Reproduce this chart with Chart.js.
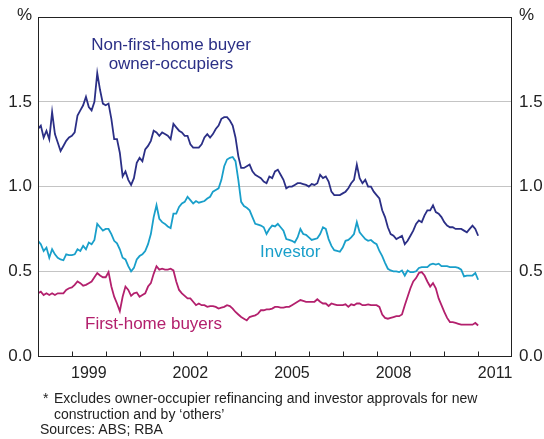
<!DOCTYPE html>
<html>
<head>
<meta charset="utf-8">
<script src="https://cdn.jsdelivr.net/npm/chart.js@4.4.0/dist/chart.umd.min.js"></script>
<style>
  html, body { margin: 0; padding: 0; background: #fff; }
  #wrap { position: relative; width: 544px; height: 439px; }
  #chart { position: absolute; left: 0; top: 0; }
  .note { position: absolute; white-space: nowrap; font: 14px/15.5px "Liberation Sans", Arial, sans-serif; color: #222; }
</style>
</head>
<body>
<div id="wrap">
  <canvas id="chart" width="544" height="439"></canvas>
  <div class="note" style="left:43px;top:391px">*</div>
  <div class="note" style="left:54px;top:391px">Excludes owner-occupier refinancing and investor approvals for new</div>
  <div class="note" style="left:54px;top:406.5px">construction and by ‘others’</div>
  <div class="note" style="left:40px;top:422px">Sources: ABS; RBA</div>
</div>
<script>
// monthly series, Jan 1998 onwards (per cent)
const startYear = 1998

const nonFirstHome = [
  1.34, 1.36, 1.29, 1.33, 1.28, 1.44, 1.31, 1.26, 1.21, 1.24, 1.27, 1.29,
  1.30, 1.32, 1.42, 1.45, 1.48, 1.53, 1.47, 1.45, 1.50, 1.67, 1.57, 1.49,
  1.48, 1.49, 1.40, 1.28, 1.28, 1.20, 1.06, 1.09, 1.04, 1.01, 1.05, 1.14,
  1.17, 1.15, 1.22, 1.24, 1.27, 1.33, 1.32, 1.30, 1.32, 1.31, 1.30, 1.28,
  1.37, 1.35, 1.33, 1.32, 1.30, 1.30, 1.25, 1.23, 1.23, 1.23, 1.25, 1.29,
  1.31, 1.29, 1.31, 1.34, 1.36, 1.40, 1.41, 1.41, 1.39, 1.36, 1.29, 1.18,
  1.11, 1.11, 1.12, 1.13, 1.09, 1.07, 1.06, 1.05, 1.03, 1.02, 1.06, 1.05,
  1.09, 1.10, 1.07, 1.04, 0.99, 1.00, 1.00, 1.01, 1.02, 1.02, 1.015, 1.01,
  1.00, 1.015, 1.01, 1.02, 1.07, 1.05, 1.06, 1.03, 0.97, 0.95, 0.95, 0.95,
  0.96, 0.97, 0.99, 1.02, 1.04, 1.13, 1.05, 1.02, 1.04, 1.00, 1.00, 0.97,
  0.95, 0.93, 0.86, 0.82, 0.76, 0.72, 0.71, 0.69, 0.70, 0.71, 0.66, 0.68,
  0.71, 0.74, 0.78, 0.80, 0.79, 0.83, 0.86, 0.86, 0.89, 0.85, 0.84, 0.82,
  0.79, 0.77, 0.76, 0.76, 0.75, 0.75, 0.75, 0.74, 0.73, 0.75, 0.77, 0.75,
  0.71
]

const investor = [
  0.68, 0.66, 0.62, 0.64, 0.58, 0.63, 0.60, 0.58, 0.57, 0.565, 0.60, 0.595,
  0.595, 0.60, 0.63, 0.62, 0.65, 0.63, 0.67, 0.66, 0.685, 0.78, 0.76, 0.74,
  0.75, 0.75, 0.72, 0.68, 0.665, 0.63, 0.58, 0.57, 0.53, 0.50, 0.52, 0.57,
  0.59, 0.60, 0.62, 0.66, 0.72, 0.82, 0.89, 0.81, 0.79, 0.78, 0.765, 0.755,
  0.84, 0.84, 0.88, 0.90, 0.91, 0.94, 0.92, 0.90, 0.915, 0.905, 0.91, 0.915,
  0.93, 0.94, 0.97, 0.98, 0.99, 1.04, 1.12, 1.16, 1.17, 1.175, 1.15, 1.04,
  0.91, 0.885, 0.875, 0.86, 0.82, 0.78, 0.775, 0.77, 0.76, 0.72, 0.75, 0.77,
  0.765, 0.78, 0.76, 0.74, 0.69, 0.685, 0.68, 0.67, 0.70, 0.75, 0.72, 0.715,
  0.70, 0.685, 0.69, 0.695, 0.72, 0.76, 0.75, 0.69, 0.65, 0.625, 0.62, 0.615,
  0.64, 0.68, 0.685, 0.70, 0.72, 0.79, 0.73, 0.71, 0.69, 0.68, 0.685, 0.67,
  0.66, 0.62, 0.59, 0.55, 0.515, 0.505, 0.50, 0.50, 0.495, 0.505, 0.475, 0.505,
  0.495, 0.495, 0.50, 0.52, 0.525, 0.525, 0.525, 0.54, 0.545, 0.54, 0.545, 0.53,
  0.53, 0.53, 0.525, 0.525, 0.525, 0.52, 0.51, 0.47, 0.475, 0.475, 0.475, 0.49,
  0.45
]

const firstHome = [
  0.37, 0.38, 0.36, 0.37, 0.36, 0.37, 0.36, 0.37, 0.37, 0.37, 0.39, 0.40,
  0.405, 0.42, 0.44, 0.43, 0.415, 0.42, 0.43, 0.44, 0.465, 0.49, 0.475, 0.465,
  0.465, 0.495, 0.41, 0.35, 0.31, 0.265, 0.35, 0.41, 0.39, 0.355, 0.37, 0.375,
  0.35, 0.36, 0.37, 0.41, 0.43, 0.485, 0.53, 0.51, 0.515, 0.51, 0.51, 0.515,
  0.505, 0.44, 0.39, 0.37, 0.355, 0.34, 0.34, 0.32, 0.30, 0.31, 0.30, 0.30,
  0.29, 0.295, 0.295, 0.29, 0.28, 0.285, 0.29, 0.30, 0.295, 0.28, 0.26, 0.245,
  0.23, 0.22, 0.21, 0.23, 0.235, 0.24, 0.25, 0.27, 0.27, 0.275, 0.275, 0.28,
  0.29, 0.29, 0.285, 0.285, 0.29, 0.29, 0.30, 0.31, 0.32, 0.33, 0.325, 0.32,
  0.32, 0.32, 0.32, 0.335, 0.32, 0.31, 0.31, 0.295, 0.31, 0.305, 0.30, 0.30,
  0.30, 0.305, 0.29, 0.305, 0.30, 0.31, 0.31, 0.30, 0.30, 0.305, 0.30, 0.30,
  0.30, 0.29, 0.245, 0.225, 0.22, 0.225, 0.23, 0.235, 0.235, 0.245, 0.30, 0.35,
  0.40, 0.44, 0.46, 0.49, 0.495, 0.475, 0.44, 0.41, 0.43, 0.40, 0.34, 0.30,
  0.26, 0.225, 0.20, 0.20, 0.195, 0.19, 0.185, 0.185, 0.185, 0.185, 0.185, 0.195,
  0.18
]

const yearLabels = [1999, 2002, 2005, 2008, 2011]
const tickYears = [1999, 2000, 2001, 2002, 2003, 2004, 2005, 2006, 2007, 2008, 2009, 2010, 2011]

const NAVY = '#2b2f86'
const CYAN = '#199fca'
const MAGENTA = '#b3206d'
const TEXT = '#222222'
const FONT = '"Liberation Sans", Arial, sans-serif'

const toPoints = arr => arr.map((v, i) => ({ x: startYear + i / 12, y: v }))

// box, inward year ticks, % units and series names
const decorations = {
  id: 'decorations',
  afterDraw(chart) {
    const { ctx, chartArea: a, scales: { x } } = chart
    ctx.save()
    ctx.strokeStyle = TEXT
    ctx.lineWidth = 1
    const l = Math.round(a.left) + 0.5, t = Math.round(a.top) + 0.5
    const r = Math.round(a.right) - 0.5, b = Math.round(a.bottom) + 0.5
    ctx.strokeRect(l, t, r - l, b - t)
    ctx.beginPath()
    tickYears.forEach(yr => {
      const px = Math.round(x.getPixelForValue(yr)) + 0.5
      ctx.moveTo(px, b)
      ctx.lineTo(px, b - 5)
    })
    ctx.stroke()

    ctx.font = '17px ' + FONT
    ctx.fillStyle = TEXT
    ctx.textBaseline = 'alphabetic'
    ctx.textAlign = 'right'
    ctx.fillText('%', a.left - 6, 20)
    ctx.textAlign = 'left'
    ctx.fillText('%', a.right + 7, 20)

    ctx.fillStyle = NAVY
    ctx.textAlign = 'center'
    ctx.fillText('Non-first-home buyer', 171, 50)
    ctx.fillText('owner-occupiers', 171, 69)
    ctx.fillStyle = CYAN
    ctx.textAlign = 'left'
    ctx.fillText('Investor', 260, 257)
    ctx.fillStyle = MAGENTA
    ctx.fillText('First-home buyers', 85, 329)
    ctx.restore()
  }
}

const line = (data, color) => ({
  data: toPoints(data),
  borderColor: color,
  borderWidth: 1.8,
  pointRadius: 0,
  tension: 0,
  fill: false
})

new Chart(document.getElementById('chart'), {
  type: 'line',
  data: {
    datasets: [
      line(firstHome, MAGENTA),
      line(investor, CYAN),
      line(nonFirstHome, NAVY)
    ]
  },
  options: {
    responsive: false,
    animation: false,
    devicePixelRatio: 1,
    layout: { padding: { top: 7, left: 0, right: 0, bottom: 0 } },
    plugins: {
      legend: { display: false },
      tooltip: { enabled: false }
    },
    scales: {
      x: {
        type: 'linear',
        min: 1998,
        max: 2012,
        afterFit: s => { s.height = 83 },
        afterBuildTicks: s => { s.ticks = yearLabels.map(y => ({ value: y + 0.5 })) },
        grid: { display: false, drawTicks: false },
        border: { display: false },
        ticks: {
          autoSkip: false,
          maxRotation: 0,
          padding: 8,
          color: TEXT,
          font: { family: FONT, size: 16 },
          callback: v => String(Math.floor(v))
        }
      },
      y: {
        position: 'left',
        min: 0,
        max: 2,
        afterFit: s => { s.width = 38 },
        grid: { color: '#c4c4c4', lineWidth: 1, drawTicks: false },
        border: { display: false },
        ticks: {
          stepSize: 0.5,
          padding: 6,
          color: TEXT,
          font: { family: FONT, size: 17 },
          callback: v => v >= 2 ? '' : v.toFixed(1)
        }
      },
      y2: {
        position: 'right',
        min: 0,
        max: 2,
        afterFit: s => { s.width = 32 },
        grid: { display: false, drawTicks: false },
        border: { display: false },
        ticks: {
          stepSize: 0.5,
          padding: 7,
          color: TEXT,
          font: { family: FONT, size: 17 },
          callback: v => v >= 2 ? '' : v.toFixed(1)
        }
      }
    }
  },
  plugins: [decorations]
})
</script>
</body>
</html>
